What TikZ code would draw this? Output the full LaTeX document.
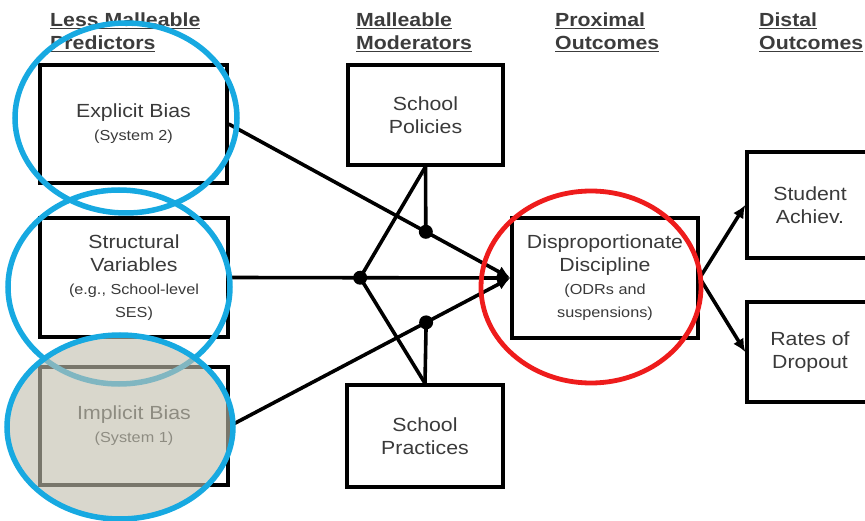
\documentclass[tikz,border=0pt]{standalone}
\usepackage{fontspec}
\setmainfont{Liberation Sans}[FakeStretch=1.12]
\usepackage{tikz}
\usetikzlibrary{arrows.meta,positioning,calc}
\usepackage{xcolor}
\definecolor{ink}{HTML}{3A3A3A}
\definecolor{head}{HTML}{3C3C3C}
\definecolor{oval}{HTML}{17A9E1}
\definecolor{alert}{HTML}{EE1C1C}
\definecolor{shade}{HTML}{C2BFAE}
\tikzset{
  >={Latex[length=13pt,width=12pt]},
  every node/.style={font=\fontsize{19}{23}\selectfont,text=ink},
  box/.style={draw=black,line width=3.4pt,fill=white,align=center,inner sep=2pt},
  hdr/.style={align=left,anchor=north west,inner sep=0pt,text=head,font=\fontsize{19}{23}\selectfont\bfseries},
  arrow/.style={->,line width=3.6pt,draw=black},
  link/.style={line width=3.6pt,draw=black},
  dot/.style={fill=black},
  blueoval/.style={draw=oval,line width=5.5pt},
  redoval/.style={draw=alert,line width=4.8pt},
}
\newcommand{\sm}[1]{{\fontsize{14.5}{18}\selectfont #1}}
\newcommand{\hd}[1]{\underline{#1}}

\begin{document}
\begin{tikzpicture}[x=1pt,y=-1pt]
\useasboundingbox (0,0) rectangle (865,521);

% column headings
\node[hdr] (h1) at (50,13) {\hd{Less Malleable}\\\hd{Predictors}};
\node[hdr] (h2) at (356,13) {\hd{Malleable}\\\hd{Moderators}};
\node[hdr] (h3) at (555,13) {\hd{Proximal}\\\hd{Outcomes}};
\node[hdr] (h4) at (759,13) {\hd{Distal}\\\hd{Outcomes}};

% predictors
\node[box,minimum width=187pt,minimum height=118pt] (expl) at (133.5,124) {Explicit Bias\\\sm{(System 2)}};
\node[box,minimum width=188pt,minimum height=119pt] (struct) at (134,277.5) {Structural\\Variables\\\sm{(e.g., School-level}\\\sm{SES)}};
\node[box,minimum width=188pt,minimum height=118pt] (impl) at (134,426) {Implicit Bias\\\sm{(System 1)}};

% moderators
\node[box,minimum width=155pt,minimum height=100pt] (pol) at (425.5,115) {School\\Policies};
\node[box,minimum width=156pt,minimum height=102pt] (prac) at (425,436) {School\\Practices};

% outcomes
\node[box,minimum width=186pt,minimum height=120pt] (disc) at (605,278) {Disproportionate\\Discipline\\\sm{(ODRs and}\\\sm{suspensions)}};
\node[box,minimum width=126pt,minimum height=106pt] (ach) at (810,205) {Student\\Achiev.};
\node[box,minimum width=126pt,minimum height=100pt] (drop) at (810,352) {Rates of\\Dropout};

% paths into the proximal outcome
\coordinate (tip) at (disc.west);
\coordinate (m1) at ($(expl.east)!0.7!(tip)$);
\coordinate (m2) at ($(struct.east)!0.465!(tip)$);
\coordinate (m3) at ($(impl.east)!0.7!(tip)$);
\draw[arrow] (expl.east) -- (tip);
\draw[arrow] (struct.east) -- (tip);
\draw[arrow] (impl.east) -- (tip);

% moderation
\draw[link] (pol.south) -- (m1);
\draw[link] (pol.south) -- (m2);
\draw[link] (prac.north) -- (m3);
\draw[link] (prac.north) -- (m2);
\foreach \m in {m1,m2,m3}
  \fill[dot] (\m) circle (7pt);

% distal outcomes
\draw[arrow] (disc.east) -- (ach.west);
\draw[arrow] (disc.east) -- (drop.west);

% highlights
\draw[blueoval] (126,118) ellipse [x radius=111pt,y radius=95pt];
\draw[blueoval] (119,287) ellipse [x radius=111pt,y radius=97pt];
\draw[blueoval,fill=shade,fill opacity=0.62] (120,427) ellipse [x radius=113pt,y radius=92pt];
\draw[redoval] (591,287) ellipse [x radius=110pt,y radius=96pt];

\end{tikzpicture}
\end{document}
